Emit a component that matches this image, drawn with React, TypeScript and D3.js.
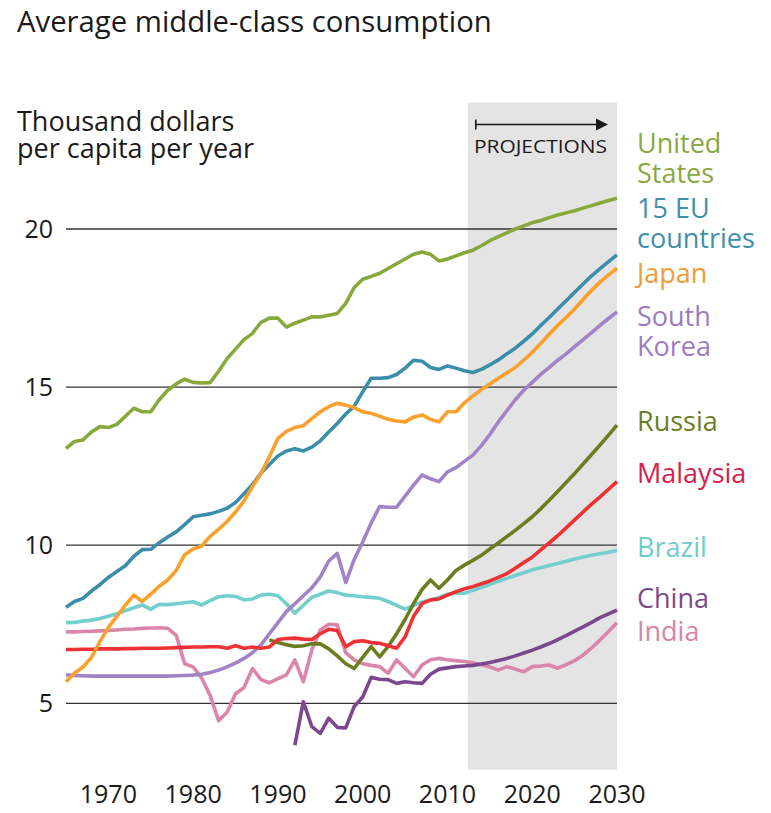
import React from 'react';
import * as d3 from 'd3';

// years shown on the chart (historical + projections)
const years = d3.range(1965, 2031);
const xTicks = [1970, 1980, 1990, 2000, 2010, 2020, 2030];
const yTicks = [5, 10, 15, 20];
const projectionStart = 2012.4;

// thousand dollars per capita per year, one value per year from the start year
const unitedStates = [
  13.06, 13.28, 13.33, 13.58, 13.75, 13.72, 13.82, 14.08, 14.33, 14.22,
  14.22, 14.6, 14.9, 15.1, 15.25, 15.15, 15.13, 15.14, 15.5, 15.9,
  16.2, 16.5, 16.7, 17.05, 17.18, 17.18, 16.9, 17.02, 17.12, 17.22,
  17.22, 17.27, 17.33, 17.65, 18.15, 18.41, 18.5, 18.6, 18.75, 18.9,
  19.05, 19.2, 19.27, 19.2, 18.99, 19.05, 19.15, 19.25, 19.33, 19.47,
  19.63, 19.76, 19.88, 20.0, 20.1, 20.2, 20.27, 20.36, 20.44, 20.51,
  20.58, 20.66, 20.74, 20.82, 20.9, 20.97,
];
const eu15 = [
  8.04, 8.22, 8.32, 8.55, 8.75, 8.98, 9.17, 9.35, 9.65, 9.86,
  9.87, 10.08, 10.26, 10.42, 10.65, 10.9, 10.95, 10.99, 11.07, 11.17,
  11.35, 11.63, 11.92, 12.28, 12.55, 12.82, 12.98, 13.05, 12.98, 13.1,
  13.3, 13.58, 13.85, 14.15, 14.4, 14.85, 15.28, 15.28, 15.3, 15.4,
  15.6, 15.85, 15.82, 15.62, 15.56, 15.67, 15.6, 15.52, 15.46, 15.56,
  15.7, 15.86, 16.05, 16.23, 16.45, 16.68, 16.95, 17.2, 17.47, 17.73,
  18.0, 18.26, 18.52, 18.75, 18.97, 19.18,
];
const japan = [
  5.68, 5.95, 6.15, 6.45, 6.95, 7.4, 7.75, 8.1, 8.42, 8.22,
  8.45, 8.7, 8.9, 9.2, 9.7, 9.88, 9.97, 10.28, 10.5, 10.75,
  11.05, 11.4, 11.85, 12.27, 12.8, 13.38, 13.6, 13.72, 13.78, 14.0,
  14.22, 14.38, 14.49, 14.43, 14.35, 14.22, 14.17, 14.08, 13.98, 13.93,
  13.9, 14.05, 14.12, 13.98, 13.9, 14.22, 14.22, 14.5, 14.72, 14.92,
  15.1, 15.28, 15.45, 15.62, 15.85, 16.1, 16.38, 16.67, 16.95, 17.2,
  17.47, 17.77, 18.06, 18.32, 18.55, 18.76,
];
const southKorea = [
  5.9, 5.88, 5.87, 5.86, 5.86, 5.86, 5.86, 5.86, 5.86, 5.86,
  5.86, 5.86, 5.86, 5.87, 5.88, 5.89, 5.92, 5.97, 6.05, 6.15,
  6.27, 6.42, 6.6, 6.85, 7.2, 7.55, 7.9, 8.15, 8.4, 8.65,
  9.0, 9.5, 9.74, 8.82, 9.55, 10.1, 10.7, 11.22, 11.2, 11.2,
  11.55, 11.9, 12.22, 12.1, 12.01, 12.32, 12.45, 12.65, 12.85, 13.15,
  13.5, 13.9, 14.25, 14.6, 14.9, 15.15, 15.4, 15.62, 15.85, 16.05,
  16.28, 16.5, 16.72, 16.95, 17.17, 17.38,
];
const russia = [
  7.0, 6.92, 6.85, 6.8, 6.82, 6.88, 6.88, 6.72, 6.5, 6.25,
  6.1, 6.45, 6.79, 6.47, 6.8, 7.2, 7.65, 8.15, 8.6, 8.9,
  8.64, 8.9, 9.2, 9.37, 9.52, 9.68, 9.88, 10.07, 10.27, 10.47,
  10.68, 10.9, 11.15, 11.42, 11.7, 11.98, 12.27, 12.57, 12.87, 13.17,
  13.48, 13.8,
];
const malaysia = [
  6.7, 6.7, 6.71, 6.71, 6.72, 6.72, 6.72, 6.73, 6.73, 6.74,
  6.74, 6.74, 6.75, 6.76, 6.77, 6.78, 6.78, 6.79, 6.79, 6.74,
  6.82, 6.74, 6.78, 6.74, 6.78, 7.02, 7.05, 7.06, 7.03, 7.02,
  7.2, 7.34, 7.3, 6.79, 6.95, 6.98, 6.92, 6.9, 6.82, 6.74,
  7.1, 7.75, 8.15, 8.27, 8.3, 8.42, 8.53, 8.62, 8.69, 8.78,
  8.87, 8.98, 9.1, 9.27, 9.45, 9.62, 9.85, 10.07, 10.3, 10.55,
  10.8, 11.05, 11.3, 11.53, 11.77, 12.01,
];
const brazil = [
  7.55, 7.56, 7.6, 7.63, 7.68, 7.75, 7.83, 7.93, 8.02, 8.11,
  7.97, 8.13, 8.12, 8.15, 8.18, 8.21, 8.11, 8.25, 8.37, 8.4,
  8.38, 8.27, 8.3, 8.42, 8.45, 8.4, 8.15, 7.85, 8.1, 8.35,
  8.45, 8.55, 8.5, 8.42, 8.4, 8.37, 8.35, 8.32, 8.22, 8.1,
  7.98, 8.1, 8.2, 8.27, 8.35, 8.45, 8.48, 8.48, 8.57, 8.66,
  8.76, 8.86, 8.95, 9.04, 9.13, 9.22, 9.29, 9.36, 9.42, 9.49,
  9.56, 9.63, 9.68, 9.73, 9.78, 9.83,
];
const china = [
  3.68, 5.05, 4.26, 4.05, 4.53, 4.24, 4.22, 4.9, 5.2, 5.82,
  5.76, 5.75, 5.63, 5.68, 5.65, 5.63, 5.92, 6.08, 6.12, 6.16,
  6.18, 6.2, 6.24, 6.29, 6.35, 6.42, 6.5, 6.59, 6.68, 6.78,
  6.89, 7.01, 7.14, 7.28, 7.42, 7.56, 7.71, 7.83, 7.95,
];
const india = [
  7.26, 7.26, 7.27, 7.28, 7.29, 7.3, 7.32, 7.34, 7.35, 7.37,
  7.38, 7.39, 7.37, 7.15, 6.25, 6.15, 5.8, 5.25, 4.45, 4.72,
  5.3, 5.5, 6.1, 5.75, 5.65, 5.78, 5.9, 6.37, 5.68, 6.69,
  7.32, 7.5, 7.48, 6.6, 6.37, 6.25, 6.2, 6.16, 5.95, 6.37,
  6.11, 5.84, 6.21, 6.38, 6.42, 6.38, 6.35, 6.32, 6.28, 6.22,
  6.15, 6.05, 6.16, 6.08, 6.0, 6.16, 6.18, 6.21, 6.11, 6.22,
  6.35, 6.52, 6.75, 7.0, 7.27, 7.55,
];

// drawing order: first drawn ends up underneath
const series = [
  { key: 'brazil', start: 1965, values: brazil, color: '#72cfcd' },
  { key: 'india', start: 1965, values: india, color: '#d986aa' },
  { key: 'southKorea', start: 1965, values: southKorea, color: '#a184c8' },
  { key: 'russia', start: 1989, values: russia, color: '#6a7d1f' },
  { key: 'malaysia', start: 1965, values: malaysia, color: '#ee3134' },
  { key: 'china', start: 1992, values: china, color: '#7b478f' },
  { key: 'eu15', start: 1965, values: eu15, color: '#3b8da9' },
  { key: 'japan', start: 1965, values: japan, color: '#f9a12c' },
  { key: 'unitedStates', start: 1965, values: unitedStates, color: '#89a83b' },
];

const labels = [
  { lines: ['United', 'States'], color: '#8aa744', baseline: 153 },
  { lines: ['15 EU', 'countries'], color: '#3f8fad', baseline: 218 },
  { lines: ['Japan'], color: '#f39a35', baseline: 283 },
  { lines: ['South', 'Korea'], color: '#9b7cc2', baseline: 326 },
  { lines: ['Russia'], color: '#6b7d24', baseline: 431 },
  { lines: ['Malaysia'], color: '#d5214c', baseline: 483 },
  { lines: ['Brazil'], color: '#6fcbca', baseline: 557 },
  { lines: ['China'], color: '#7b4a8b', baseline: 608 },
  { lines: ['India'], color: '#d784a7', baseline: 641 },
];

const font = '"Open Sans", "DejaVu Sans", sans-serif';

export default function App() {
  const width = 771;
  const height = 813;

  const x = d3.scaleLinear().domain([years[0], years[years.length - 1]]).range([66, 617]);
  const y = d3.scaleLinear().domain([5, 20]).range([703.3, 229]);

  const line = d3
    .line<[number, number]>()
    .x(d => x(d[0]))
    .y(d => y(d[1]))
    .curve(d3.curveLinear);

  const shadeTop = y(24);
  const shadeBottom = y(2.9);
  const arrowY = shadeTop + 22;
  const arrowLeft = x(projectionStart) + 8;

  return (
    <svg
      width={width}
      height={height}
      style={{ position: 'absolute', left: 0, top: 0, background: '#fff' }}
      fontFamily={font}
    >
      <rect
        x={x(projectionStart)}
        y={shadeTop}
        width={x(2030) - x(projectionStart)}
        height={shadeBottom - shadeTop}
        fill="#e4e4e4"
      />

      {yTicks.map(t => (
        <g key={t}>
          <line x1={x(1965)} x2={x(2030)} y1={y(t)} y2={y(t)} stroke="#333" strokeWidth={1.3} />
          <text x={53} y={y(t) + 8.5} textAnchor="end" fontSize={25} fill="#1a1a1a">
            {t}
          </text>
        </g>
      ))}

      {xTicks.map(t => (
        <text key={t} x={x(t)} y={803} textAnchor="middle" fontSize={25} fill="#1a1a1a">
          {t}
        </text>
      ))}

      {series.map(s => {
        const pts: [number, number][] = s.values.map((v, i) => [s.start + i, v]);
        return (
          <path
            key={s.key}
            d={line(pts) || ''}
            fill="none"
            stroke={s.color}
            strokeWidth={3.6}
            strokeLinejoin="round"
            strokeLinecap="butt"
          />
        );
      })}

      {/* projections marker */}
      <line x1={arrowLeft} x2={600} y1={arrowY} y2={arrowY} stroke="#1a1a1a" strokeWidth={1.6} />
      <line x1={arrowLeft} x2={arrowLeft} y1={arrowY - 5} y2={arrowY + 5} stroke="#1a1a1a" strokeWidth={1.6} />
      <polygon points={`596,${arrowY - 6} 608,${arrowY} 596,${arrowY + 6}`} fill="#1a1a1a" />
      <text
        x={474}
        y={153}
        fontSize={18}
        fill="#1a1a1a"
        textLength={133}
        lengthAdjust="spacingAndGlyphs"
      >
        PROJECTIONS
      </text>

      <text x={17} y={32} fontSize={29.3} fill="#1a1a1a">
        Average middle-class consumption
      </text>
      <text x={17} y={131} fontSize={27} fill="#1a1a1a">
        Thousand dollars
      </text>
      <text x={17} y={158} fontSize={27} fill="#1a1a1a">
        per capita per year
      </text>

      {labels.map(l => (
        <text key={l.lines[0]} x={637} y={l.baseline} fontSize={27} fill={l.color}>
          {l.lines.map((ln, i) => (
            <tspan key={i} x={637} dy={i === 0 ? 0 : 30}>
              {ln}
            </tspan>
          ))}
        </text>
      ))}
    </svg>
  );
}
